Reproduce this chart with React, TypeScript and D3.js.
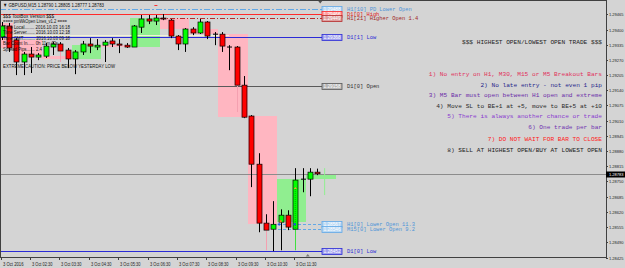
import React from "react";
import * as d3 from "d3";

const W = 625;
const H = 268;

const chartTitle = "\u25BC GBPUSD,M15  1.28790 1.28805 1.28777 1.28783";

// M15 bars, oldest -> newest
const opens = [1.29368, 1.29415, 1.29355, 1.29261, 1.29295, 1.29282, 1.29286, 1.29325, 1.29338, 1.29312, 1.29274, 1.29304, 1.29338, 1.29325, 1.29333, 1.29351, 1.29338, 1.29333, 1.29325, 1.29410, 1.29445, 1.29436, 1.29449, 1.29440, 1.29372, 1.29338, 1.29402, 1.29385, 1.29432, 1.29380, 1.29380, 1.29325, 1.29325, 1.29162, 1.29030, 1.28824, 1.28572, 1.28546, 1.28576, 1.28606, 1.28546, 1.28760, 1.28760, 1.28790];
const highs = [1.29432, 1.29428, 1.29363, 1.29304, 1.29325, 1.29299, 1.29342, 1.29348, 1.29346, 1.29321, 1.29312, 1.29351, 1.29363, 1.29359, 1.29355, 1.29363, 1.29359, 1.29342, 1.29419, 1.29462, 1.29462, 1.29462, 1.29466, 1.29445, 1.29376, 1.29406, 1.29410, 1.29445, 1.29436, 1.29389, 1.29389, 1.29333, 1.29329, 1.29201, 1.29034, 1.28871, 1.28610, 1.28666, 1.28631, 1.28627, 1.28807, 1.28807, 1.28807, 1.28805];
const lows = [1.29355, 1.29304, 1.29205, 1.29205, 1.29214, 1.29269, 1.29278, 1.29291, 1.29261, 1.29235, 1.29209, 1.29291, 1.29299, 1.29312, 1.29261, 1.29325, 1.29299, 1.29321, 1.29325, 1.29385, 1.29423, 1.29419, 1.29440, 1.29363, 1.29312, 1.29304, 1.29376, 1.29381, 1.29359, 1.29333, 1.29304, 1.29226, 1.29047, 1.29021, 1.28726, 1.28533, 1.28456, 1.28452, 1.28456, 1.28542, 1.28456, 1.28704, 1.28687, 1.28777];
const closes = [1.29415, 1.29321, 1.29261, 1.29295, 1.29282, 1.29291, 1.29329, 1.29338, 1.29308, 1.29274, 1.29304, 1.29338, 1.29329, 1.29333, 1.29346, 1.29338, 1.29333, 1.29325, 1.29415, 1.29445, 1.29436, 1.29449, 1.29445, 1.29372, 1.29338, 1.29402, 1.29385, 1.29432, 1.29372, 1.29380, 1.29329, 1.29325, 1.29162, 1.29025, 1.28824, 1.28572, 1.28542, 1.28567, 1.28606, 1.28555, 1.28756, 1.28760, 1.28790, 1.28783];
const wickTint = ["", "", "", "", "", "", "", "", "pink", "", "", "", "", "", "", "", "", "", "", "", "", "", "", "", "", "", "", "", "", "", "", "", "pink", "", "", "", "pink", "", "", "", "green", "", "", ""];

// H1 bodies: hours start every 4 bars, first hour began 2 bars before the first visible bar
const firstHourOpen = 1.29428;
const firstHourStart = -2;
const barsPerHour = 4;

const priceTicks = ["1.29465", "1.29400", "1.29335", "1.29270", "1.29205", "1.29140", "1.29075", "1.29010", "1.28945", "1.28880", "1.28815", "1.28750", "1.28685", "1.28620", "1.28555", "1.28490", "1.28425"];
const timeLabelIdx = [0, 4, 8, 12, 16, 20, 24, 28, 32, 36, 40];
const timeLabels = ["3 Oct 2016", "3 Oct 02:30", "3 Oct 03:30", "3 Oct 04:30", "3 Oct 05:30", "3 Oct 06:30", "3 Oct 07:30", "3 Oct 08:30", "3 Oct 09:30", "3 Oct 10:30", "3 Oct 11:30"];

const levelNames = ["H1[10] PD Lower Open", "D1[0] High", "H1[21] Higher Open 1.4", "D1[1] Low", "D1[0] Open", "H1[0] Lower Open 11.3", "M15[0] Lower Open 9.2", "D1[0] Low"];
const levelPrices = [1.29488, 1.29466, 1.29449, 1.29368, 1.29158, 1.28567, 1.28546, 1.28452];

const infoLines = [
  "$$$ ToolBox Version $$$",
  "==== pmWkOpen Lines_v1.2 ====",
  "Time Local........ 2016.10.03 16:18",
  "Time Server....... 2016.10.03 12:18",
  "Time GMT.......... 2016.10.03 09:18",
  "Bar Count In...... 0h 11m 42s",
  "Spread Pips....... 2.4",
];
const cautionText = "EXTREME CAUTION: PRICE BELOW YESTERDAY LOW";

const rulesTitle = "$$$ HIGHEST OPEN/LOWEST OPEN TRADE $$$";
const rules = [
  "1) No entry on H1, M30, M15 or M5 Breakout Bars",
  "2) No late entry - not even 1 pip",
  "3) M5 Bar must open between H1 open and extreme",
  "4) Move SL to BE+1 at +5, move to BE+5 at +10",
  "5) There is always another chance or trade",
  "6) One trade per bar",
  "7) DO NOT WAIT FOR BAR TO CLOSE",
  "8) SELL AT HIGHEST OPEN/BUY AT LOWEST OPEN",
];

// trade marks (bar index, price)
const entryIdx = [37.8, 40];
const entryPrice = [1.28567, 1.28567];
const arrowIdx = 40;
const arrowPrice = 1.28718;
const nextBarIdx = 44;
const nextBarHigh = 1.28807;
const nextBarLow = 1.28692;

// ---------------- styles ----------------
const BG = "#d4d4d4";
const UP = "#00ff00";
const DOWN = "#ff0000";
const PINK = "#ffb6c1";
const LGREEN = "#90ee90";
const levelStyles = [
  { color: "#62a8e6", dash: "6,2,2,2", fromIdx: null, text: "#4f95d8" },
  { color: "#ff2a2a", dash: null, fromIdx: null, text: "#e02020" },
  { color: "#b52a2a", dash: "5,2,1,2", fromIdx: 21.5, text: "#a02828" },
  { color: "#2b2bd6", dash: null, fromIdx: null, text: "#2b2bd6" },
  { color: "#5a5a5a", dash: null, fromIdx: null, text: "#303030" },
  { color: "#62a8e6", dash: "3,2", fromIdx: 37.6, text: "#4f95d8" },
  { color: "#62a8e6", dash: "3,2", fromIdx: 37.6, text: "#4f95d8" },
  { color: "#2b2bd6", dash: null, fromIdx: null, text: "#2b2bd6" },
];
const ruleColors = ["#e0305c", "#25258a", "#6a2aa8", "#2a2a2a", "#8a3ad0", "#7030b0", "#ff1a1a", "#1a1a1a"];

export default function App() {
  const plotR = 606;
  const plotB = 257;
  const n = opens.length;
  const x = d3.scaleLinear().domain([0, n - 1]).range([1.8, 317.3]);
  const y = d3.scaleLinear().domain([1.28425, 1.29465]).range([257.5, 14.3]);
  const pitch = x(1) - x(0);
  const bw = 5;
  const fmt = d3.format(".5f");

  // H1 bodies derived from the bars
  const hours: { x0: number; x1: number; o: number; c: number }[] = [];
  for (let s = firstHourStart; s < n; s += barsPerHour) {
    const o = s < 0 ? firstHourOpen : opens[s];
    const c = closes[Math.min(s + barsPerHour - 1, n - 1)];
    hours.push({ x0: x(s) - pitch / 2, x1: x(s + barsPerHour - 1) + pitch / 2, o, c });
  }

  const sans = "'Liberation Sans', Arial, sans-serif";
  const mono = "'Liberation Mono', 'DejaVu Sans Mono', monospace";
  const labelBoxX = 322;
  const lastClose = closes[n - 1];

  return (
    <div style={{ position: "absolute", left: 0, top: 0 }}>
      <svg width={W} height={H} style={{ display: "block", background: BG }}>
        <defs>
          <clipPath id="plotClip">
            <rect x={0} y={0} width={plotR} height={plotB} />
          </clipPath>
        </defs>
        <rect x={0} y={0} width={W} height={H} fill={BG} />
        <g clipPath="url(#plotClip)">
          {/* H1 bodies */}
          {hours.map((h, i) => {
            const top = y(Math.max(h.o, h.c));
            const bot = y(Math.min(h.o, h.c));
            return (
              <rect key={"h" + i} x={h.x0} y={top} width={h.x1 - h.x0} height={Math.max(1, bot - top)}
                fill={h.c >= h.o ? LGREEN : PINK} shapeRendering="crispEdges" />
            );
          })}
          {/* pale line above D1[1] Low */}
          <line x1={0} x2={x(31)} y1={y(levelPrices[3]) - 1.5} y2={y(levelPrices[3]) - 1.5} stroke="#f2f0d8" strokeWidth={1} shapeRendering="crispEdges" />
          {/* level lines */}
          {levelPrices.map((p, i) => {
            const st = levelStyles[i];
            const yy = Math.round(y(p)) + 0.5;
            return (
              <line key={"l" + i} x1={st.fromIdx == null ? 0 : x(st.fromIdx)} x2={labelBoxX} y1={yy} y2={yy}
                stroke={st.color} strokeWidth={1} strokeDasharray={st.dash || undefined} shapeRendering="crispEdges" />
            );
          })}
          {/* current price line */}
          <line x1={0} x2={plotR} y1={Math.round(y(lastClose)) + 0.5} y2={Math.round(y(lastClose)) + 0.5} stroke="#8c8c8c" strokeWidth={1} shapeRendering="crispEdges" />
          {/* next bar marker */}
          <line x1={x(nextBarIdx)} x2={x(nextBarIdx)} y1={y(nextBarHigh)} y2={y(nextBarLow)} stroke={LGREEN} strokeWidth={1} />
          {/* candles */}
          {opens.map((o, i) => {
            const c = closes[i];
            const cx = Math.round(x(i)) + 0.5;
            const top = y(Math.max(o, c));
            const bot = y(Math.min(o, c));
            const tint = wickTint[i] === "pink" ? "#f4a0b0" : wickTint[i] === "green" ? "#40e040" : "#000";
            return (
              <g key={"c" + i}>
                <line x1={cx} x2={cx} y1={y(highs[i])} y2={top} stroke="#000" strokeWidth={1} />
                <line x1={cx} x2={cx} y1={bot} y2={y(lows[i])} stroke={tint} strokeWidth={1} />
                {Math.abs(c - o) < 0.000005 ? (
                  <line x1={cx - bw / 2} x2={cx + bw / 2} y1={top} y2={top} stroke="#000" strokeWidth={1} />
                ) : (
                  <rect x={cx - bw / 2} y={top} width={bw} height={Math.max(1, bot - top)}
                    fill={c > o ? UP : DOWN} stroke="#000" strokeWidth={0.7} />
                )}
              </g>
            );
          })}
          {/* trade marks */}
          <line x1={x(40)} x2={x(40)} y1={y(arrowPrice)} y2={y(opens[40])} stroke="#009a00" strokeWidth={0.8} strokeDasharray="1,1" />
          <path d={`M${x(entryIdx[0]) - 1.5},${y(entryPrice[0])}h3M${x(entryIdx[0])},${y(entryPrice[0]) - 1.5}v3`} stroke="#1f4fe0" strokeWidth={1} />
          <rect x={x(entryIdx[0]) + 0.5} y={y(entryPrice[0]) - 4} width={2} height={2} fill="#f08030" />
          <circle cx={x(entryIdx[1]) - 0.5} cy={y(entryPrice[1])} r={1.2} fill="#1f4fe0" />
          <path d={`M${x(arrowIdx) - 1.5},${y(arrowPrice)}l1.5,-2l1.5,2z`} fill="#f0a030" />
        </g>

        {/* top-left header */}
        <text x={3} y={7} fontFamily={sans} fontSize={5.5} fill="#111" textLength={101} lengthAdjust="spacingAndGlyphs">{chartTitle}</text>
        <rect x={x(21) - 1.5} y={5} width={3} height={1} fill="#ff3030" />
        <path d={`M${x(43.4) - 2},1 h4 l-2,2.5z`} fill="#555" />
        <path d={`M${x(41.7) - 2},${plotB - 0.5} h4 l-2,-2.5z`} fill="#777" />

        {/* info lines */}
        {infoLines.map((t, i) => {
          const ys = [15.7, 20.9, 26.7, 32.4, 37.8, 43.3, 49];
          const ws = [51, 64, 67, 67, 67, 55, 39];
          return (
            <text key={"i" + i} x={3} y={ys[i] + 2} fontFamily={sans} fontSize={5.6} fill="#111" textLength={ws[i]} lengthAdjust="spacingAndGlyphs">{t}</text>
          );
        })}
        <text x={3} y={67.7} fontFamily={sans} fontSize={5.6} fill="#111" textLength={112} lengthAdjust="spacingAndGlyphs">{cautionText}</text>

        {/* level labels */}
        {levelPrices.map((p, i) => {
          const st = levelStyles[i];
          const yy = Math.round(y(p)) + 0.5;
          const fill = d3.interpolateRgb(st.color, "#ffffff")(0.55);
          return (
            <g key={"lb" + i}>
              <rect x={labelBoxX} y={yy - 3} width={20} height={6} fill={fill} stroke={st.color} strokeWidth={0.8} />
              <text x={labelBoxX + 10} y={yy + 1.8} textAnchor="middle" fontFamily={sans} fontSize={4.6} fill="#ffffff" stroke="none" textLength={17} lengthAdjust="spacingAndGlyphs">{fmt(p)}</text>
              <text x={347} y={yy + 1.8} fontFamily={mono} fontSize={5.4} fill={st.text}>{levelNames[i]}</text>
            </g>
          );
        })}

        {/* rules */}
        <text x={602} y={44} textAnchor="end" fontFamily={mono} fontSize={6.15} fill="#222">{rulesTitle}</text>
        {rules.map((r, i) => {
          const ys = [74, 84.5, 95, 105.5, 116, 126.5, 138.5, 149.5];
          return (
            <text key={"r" + i} x={602} y={ys[i] + 2} textAnchor="end" fontFamily={mono} fontSize={6.15} fill={ruleColors[i]}>{r}</text>
          );
        })}

        {/* frame */}
        <rect x={0.5} y={0.5} width={plotR - 0.5} height={plotB - 0.5} fill="none" stroke="#404040" strokeWidth={1} shapeRendering="crispEdges" />

        {/* price axis */}
        {priceTicks.map((t, i) => {
          const yy = Math.round(y(+t)) + 0.5;
          return (
            <g key={"pt" + i}>
              <line x1={plotR} x2={plotR + 2} y1={yy} y2={yy} stroke="#404040" shapeRendering="crispEdges" />
              <text x={609} y={yy + 1.7} fontFamily={sans} fontSize={4.3} fill="#222" textLength={14.5} lengthAdjust="spacingAndGlyphs">{t}</text>
            </g>
          );
        })}
        <rect x={plotR} y={Math.round(y(lastClose)) - 2.5} width={W - plotR} height={6} fill="#000" />
        <text x={609} y={Math.round(y(lastClose)) + 2.2} fontFamily={sans} fontSize={4.3} fill="#fff" textLength={14.5} lengthAdjust="spacingAndGlyphs">{fmt(lastClose)}</text>

        {/* time axis */}
        {timeLabelIdx.map((ix, i) => {
          const xx = Math.round(x(ix)) - 0.5;
          return (
            <g key={"tl" + i}>
              <line x1={xx} x2={xx} y1={plotB} y2={plotB + 3} stroke="#404040" shapeRendering="crispEdges" />
              <text x={xx + 1.5} y={265.5} fontFamily={sans} fontSize={4.6} fill="#222" textLength={20.5} lengthAdjust="spacingAndGlyphs">{timeLabels[i]}</text>
            </g>
          );
        })}
      </svg>
    </div>
  );
}
